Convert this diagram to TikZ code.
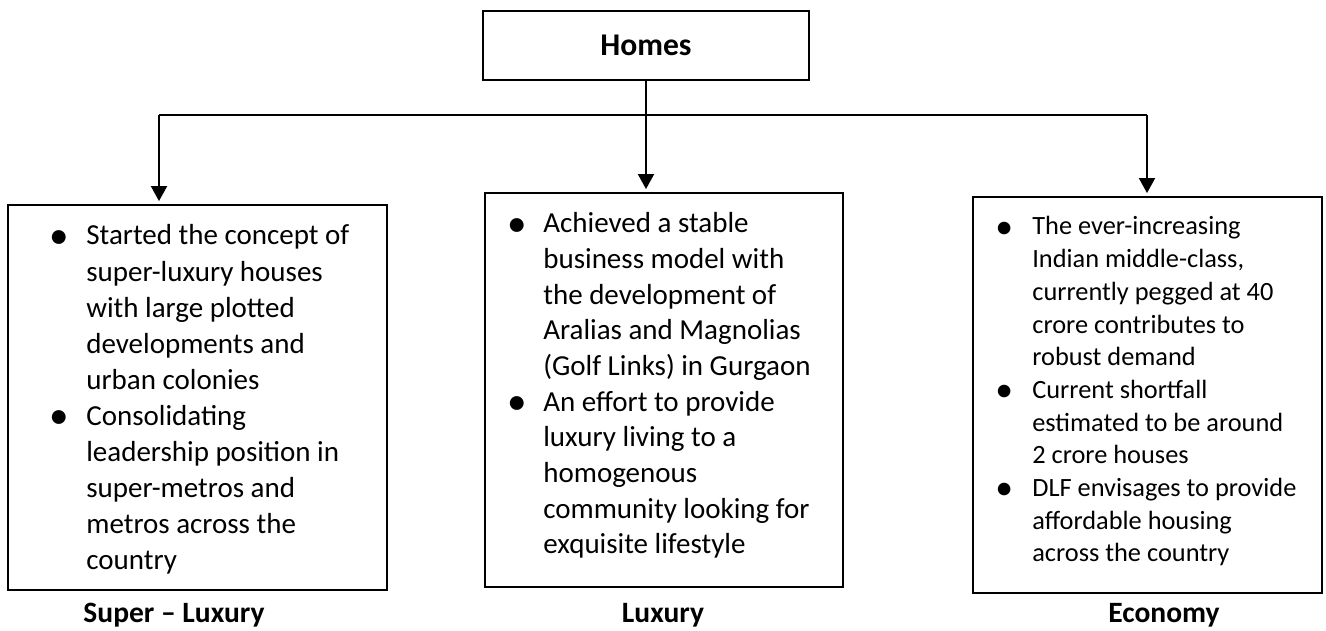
\documentclass[tikz,border=0pt]{standalone}
\usepackage{fontspec}
\setmainfont{Carlito}
\usepackage{array}
\usetikzlibrary{arrows.meta}
\usetikzlibrary{calc}

\newcommand{\pt}{\raisebox{-0.12em}{\scalebox{1.35}{\textbullet}} &}

\begin{document}
\begin{tikzpicture}[x=0.02cm,y=0.02cm,
    box/.style={draw, line width=1.1pt, inner sep=0pt},
    pts/.style={anchor=base west, inner sep=0pt},
    cat/.style={anchor=base, inner sep=0pt, font=\fontsize{16.8}{20}\selectfont\bfseries},
    link/.style={line width=1.1pt},
    arr/.style={link, -{Triangle[length=0.3cm, width=0.32cm]}, shorten >=0.06cm}]
  \useasboundingbox (0,0) rectangle (1326,631);

  % Top box
  \node[box, minimum width=6.52cm, minimum height=1.38cm,
        font=\fontsize{18}{22}\selectfont\bfseries] (home) at (646,585.5) {Homes};

  % Boxes
  \node[box, minimum width=7.58cm, minimum height=7.70cm] (super) at (197.5,233.5) {};
  \node[box, minimum width=7.16cm, minimum height=7.88cm] (lux) at (664,241) {};
  \node[box, minimum width=6.98cm, minimum height=7.92cm] (eco) at (1147.5,236) {};

  % Branches
  \coordinate (bl) at (159,516);
  \coordinate (br) at (1147,516);
  \coordinate (bm) at (home.south |- bl);
  \draw[link] (home.south) -- (bm);
  \draw[link] (bl) -- (br);
  \draw[arr] (bl) -- (bl |- super.north);
  \draw[arr] (bm) -- (bm |- lux.north);
  \draw[arr] (br) -- (br |- eco.north);

  % Box texts
  \node[pts, font=\fontsize{16.5}{20.5}\selectfont] (superpts) at (49,386) {%
    \begin{tabular}[t]{@{}p{0.74cm}@{}l@{}}
      \pt Started the concept of\\
       & super-luxury houses\\
       & with large plotted\\
       & developments and\\
       & urban colonies\\
      \pt Consolidating\\
       & leadership position in\\
       & super-metros and\\
       & metros across the\\
       & country
    \end{tabular}};
  \node[pts, font=\fontsize{16.5}{20.3}\selectfont] (luxpts) at (507,398) {%
    \begin{tabular}[t]{@{}p{0.72cm}@{}l@{}}
      \pt Achieved a stable\\
       & business model with\\
       & the development of\\
       & Aralias and Magnolias\\
       & (Golf Links) in Gurgaon\\
      \pt An effort to provide\\
       & luxury living to a\\
       & homogenous\\
       & community looking for\\
       & exquisite lifestyle
    \end{tabular}};
  \node[pts, font=\fontsize{15}{18.6}\selectfont] (ecopts) at (995,396) {%
    \begin{tabular}[t]{@{}p{0.74cm}@{}l@{}}
      \pt The ever-increasing\\
       & Indian middle-class,\\
       & currently pegged at 40\\
       & crore contributes to\\
       & robust demand\\
      \pt Current shortfall\\
       & estimated to be around\\
       & 2 crore houses\\
      \pt DLF envisages to provide\\
       & affordable housing\\
       & across the country
    \end{tabular}};

  % Labels
  \node[cat] (superlbl) at (174,8) {Super -- Luxury};
  \node[cat] (luxlbl) at (663,8) {Luxury};
  \node[cat] (ecolbl) at (1164,8) {Economy};
\end{tikzpicture}
\end{document}
